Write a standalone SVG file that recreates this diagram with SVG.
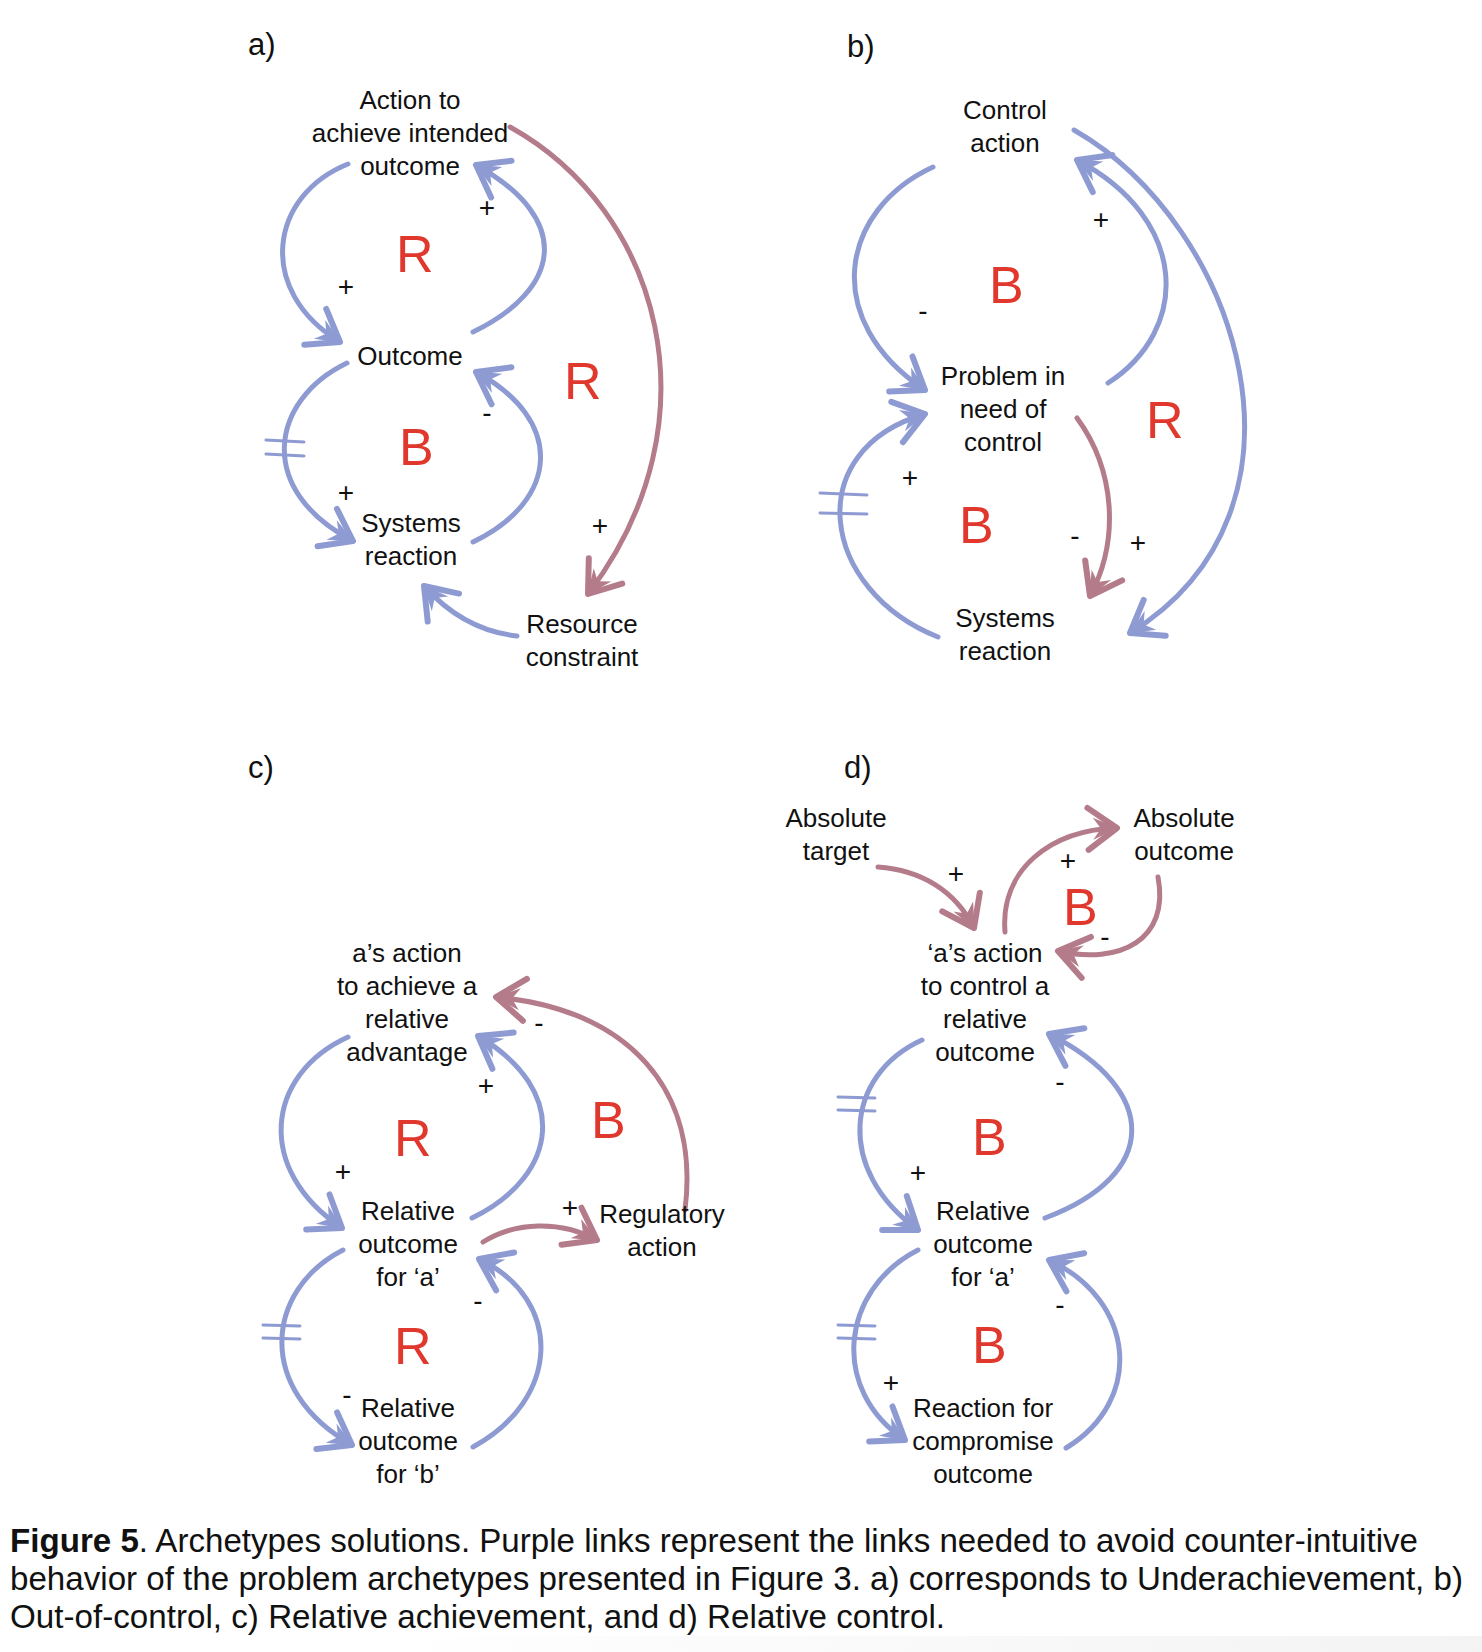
<svg xmlns="http://www.w3.org/2000/svg" width="1482" height="1652" viewBox="0 0 1482 1652">
<defs>
<style>
text{font-family:"Liberation Sans",Arial,Helvetica,sans-serif;fill:#111}
.n{font-size:26px;text-anchor:middle}
.p{font-size:31px}
.s{font-size:28px;text-anchor:middle}
.L{font-size:52px;fill:#e1382d}
.cap{font-size:32.5px}
.bl{fill:none;stroke:#8e9bd3;stroke-width:5;stroke-linecap:round;marker-end:url(#ab)}
.pk{fill:none;stroke:#b47c8a;stroke-width:5;stroke-linecap:round;marker-end:url(#ap)}
.dl{fill:none;stroke:#8e9bd3;stroke-width:3;stroke-linecap:round}
</style>
<marker id="ab" markerUnits="userSpaceOnUse" markerWidth="60" markerHeight="60" viewBox="-40 -30 60 60" refX="0" refY="0" orient="auto" overflow="visible">
<path d="M-29,-21 L0,0 L-29,21" fill="none" stroke="#8e9bd3" stroke-width="6" stroke-linejoin="round" stroke-linecap="round"/>
<path d="M1,0 L-24,-11 L-16,0 L-24,11 Z" fill="#8e9bd3"/>
</marker>
<marker id="ap" markerUnits="userSpaceOnUse" markerWidth="60" markerHeight="60" viewBox="-40 -30 60 60" refX="0" refY="0" orient="auto" overflow="visible">
<path d="M-29,-21 L0,0 L-29,21" fill="none" stroke="#b47c8a" stroke-width="6" stroke-linejoin="round" stroke-linecap="round"/>
<path d="M1,0 L-24,-11 L-16,0 L-24,11 Z" fill="#b47c8a"/>
</marker>
<linearGradient id="fade" x1="0" y1="0" x2="1" y2="0">
<stop offset="0" stop-color="#ffffff"/>
<stop offset="1" stop-color="#f3f3f3"/>
</linearGradient>
</defs>
<rect x="0" y="0" width="1482" height="1652" fill="#ffffff"/>
<rect x="380" y="1636" width="1102" height="16" fill="url(#fade)"/>

<g id="connectors">
<!-- a -->
<path class="bl" d="M348,164 C270,195 255,290 340,342"/>
<path class="bl" d="M473,332 C560,290 575,220 476,165"/>
<path class="bl" d="M347,363 C270,400 255,490 353,541"/>
<path class="bl" d="M473,542 C560,500 565,420 476,372"/>
<path class="bl" d="M517,636 C480,632 450,615 424,586"/>
<path class="pk" d="M510,127 C660,210 720,420 588,594"/>
<path class="dl" d="M266,440 L304,442 M266,454 L304,456"/>
<!-- b -->
<path class="bl" d="M933,167 C840,210 820,320 925,390"/>
<path class="bl" d="M1108,383 C1190,330 1190,220 1077,160"/>
<path class="bl" d="M1074,130 C1240,225 1330,510 1130,633"/>
<path class="pk" d="M1077,418 C1115,470 1120,540 1090,596"/>
<path class="bl" d="M938,637 C820,590 800,450 925,414"/>
<path class="dl" d="M820,493 L867,495 M820,513 L867,514"/>
<!-- c -->
<path class="bl" d="M348,1037 C265,1075 255,1170 342,1228"/>
<path class="bl" d="M472,1218 C560,1175 570,1090 478,1036"/>
<path class="pk" d="M685,1210 C700,1090 630,1010 496,997"/>
<path class="pk" d="M483,1242 C515,1222 560,1220 597,1240"/>
<path class="bl" d="M343,1250 C265,1290 255,1390 352,1445"/>
<path class="bl" d="M473,1447 C560,1400 565,1300 479,1259"/>
<path class="dl" d="M263,1325 L300,1326 M263,1338 L300,1339"/>
<!-- d -->
<path class="pk" d="M878,867 C920,870 955,890 974,928"/>
<path class="pk" d="M1005,932 C1000,870 1050,830 1117,828"/>
<path class="pk" d="M1158,877 C1170,940 1120,965 1058,951"/>
<path class="bl" d="M922,1040 C845,1075 835,1170 918,1230"/>
<path class="bl" d="M1045,1218 C1160,1175 1160,1090 1049,1034"/>
<path class="bl" d="M918,1250 C840,1290 830,1390 905,1440"/>
<path class="bl" d="M1066,1448 C1145,1400 1135,1300 1049,1260"/>
<path class="dl" d="M838,1097 L875,1098 M838,1110 L875,1111 M838,1325 L875,1326 M838,1338 L875,1339"/>
</g>

<g id="panel-labels">
<text class="p" x="248" y="55">a)</text>
<text class="p" x="847" y="57">b)</text>
<text class="p" x="248" y="778">c)</text>
<text class="p" x="844" y="778">d)</text>
</g>

<!-- panel a nodes -->
<g id="a-action"><text class="n"><tspan x="410" y="109">Action to</tspan><tspan x="410" y="142">achieve intended</tspan><tspan x="410" y="175">outcome</tspan></text></g>
<g id="a-outcome"><text class="n" x="410" y="365">Outcome</text></g>
<g id="a-systems"><text class="n"><tspan x="411" y="532">Systems</tspan><tspan x="411" y="565">reaction</tspan></text></g>
<g id="a-resource"><text class="n"><tspan x="582" y="633">Resource</tspan><tspan x="582" y="666">constraint</tspan></text></g>

<!-- panel b nodes -->
<g id="b-control"><text class="n"><tspan x="1005" y="119">Control</tspan><tspan x="1005" y="152">action</tspan></text></g>
<g id="b-problem"><text class="n"><tspan x="1003" y="385">Problem in</tspan><tspan x="1003" y="418">need of</tspan><tspan x="1003" y="451">control</tspan></text></g>
<g id="b-systems"><text class="n"><tspan x="1005" y="627">Systems</tspan><tspan x="1005" y="660">reaction</tspan></text></g>

<!-- panel c nodes -->
<g id="c-action"><text class="n"><tspan x="407" y="962">a’s action</tspan><tspan x="407" y="995">to achieve a</tspan><tspan x="407" y="1028">relative</tspan><tspan x="407" y="1061">advantage</tspan></text></g>
<g id="c-rel-a"><text class="n"><tspan x="408" y="1220">Relative</tspan><tspan x="408" y="1253">outcome</tspan><tspan x="408" y="1286">for ‘a’</tspan></text></g>
<g id="c-regulatory"><text class="n"><tspan x="662" y="1223">Regulatory</tspan><tspan x="662" y="1256">action</tspan></text></g>
<g id="c-rel-b"><text class="n"><tspan x="408" y="1417">Relative</tspan><tspan x="408" y="1450">outcome</tspan><tspan x="408" y="1483">for ‘b’</tspan></text></g>

<!-- panel d nodes -->
<g id="d-target"><text class="n"><tspan x="836" y="827">Absolute</tspan><tspan x="836" y="860">target</tspan></text></g>
<g id="d-abs-outcome"><text class="n"><tspan x="1184" y="827">Absolute</tspan><tspan x="1184" y="860">outcome</tspan></text></g>
<g id="d-action"><text class="n"><tspan x="985" y="962">‘a’s action</tspan><tspan x="985" y="995">to control a</tspan><tspan x="985" y="1028">relative</tspan><tspan x="985" y="1061">outcome</tspan></text></g>
<g id="d-rel-a"><text class="n"><tspan x="983" y="1220">Relative</tspan><tspan x="983" y="1253">outcome</tspan><tspan x="983" y="1286">for ‘a’</tspan></text></g>
<g id="d-reaction"><text class="n"><tspan x="983" y="1417">Reaction for</tspan><tspan x="983" y="1450">compromise</tspan><tspan x="983" y="1483">outcome</tspan></text></g>

<g id="loop-labels">
<text class="L" x="396" y="272">R</text>
<text class="L" x="399" y="465">B</text>
<text class="L" x="564" y="399">R</text>
<text class="L" x="989" y="303">B</text>
<text class="L" x="1146" y="438">R</text>
<text class="L" x="959" y="543">B</text>
<text class="L" x="394" y="1156">R</text>
<text class="L" x="591" y="1138">B</text>
<text class="L" x="394" y="1364">R</text>
<text class="L" x="1063" y="925">B</text>
<text class="L" x="972" y="1155">B</text>
<text class="L" x="972" y="1363">B</text>
</g>

<g id="polarities">
<text class="s" x="487" y="217">+</text>
<text class="s" x="346" y="296">+</text>
<text class="s" x="487" y="422">-</text>
<text class="s" x="346" y="502">+</text>
<text class="s" x="600" y="535">+</text>
<text class="s" x="1101" y="229">+</text>
<text class="s" x="923" y="320">-</text>
<text class="s" x="910" y="487">+</text>
<text class="s" x="1075" y="545">-</text>
<text class="s" x="1138" y="552">+</text>
<text class="s" x="539" y="1032">-</text>
<text class="s" x="486" y="1095">+</text>
<text class="s" x="343" y="1181">+</text>
<text class="s" x="570" y="1217">+</text>
<text class="s" x="478" y="1310">-</text>
<text class="s" x="347" y="1404">-</text>
<text class="s" x="956" y="883">+</text>
<text class="s" x="1068" y="870">+</text>
<text class="s" x="1105" y="946">-</text>
<text class="s" x="1060" y="1091">-</text>
<text class="s" x="918" y="1182">+</text>
<text class="s" x="1060" y="1314">-</text>
<text class="s" x="891" y="1392">+</text>
</g>

<g id="caption">
<text class="cap" x="10" y="1552" textLength="1408" lengthAdjust="spacingAndGlyphs"><tspan font-weight="bold">Figure 5</tspan>. Archetypes solutions. Purple links represent the links needed to avoid counter-intuitive</text>
<text class="cap" x="10" y="1590" textLength="1453" lengthAdjust="spacingAndGlyphs">behavior of the problem archetypes presented in Figure 3. a) corresponds to Underachievement, b)</text>
<text class="cap" x="10" y="1628" textLength="935" lengthAdjust="spacingAndGlyphs">Out-of-control, c) Relative achievement, and d) Relative control.</text>
</g>
</svg>
